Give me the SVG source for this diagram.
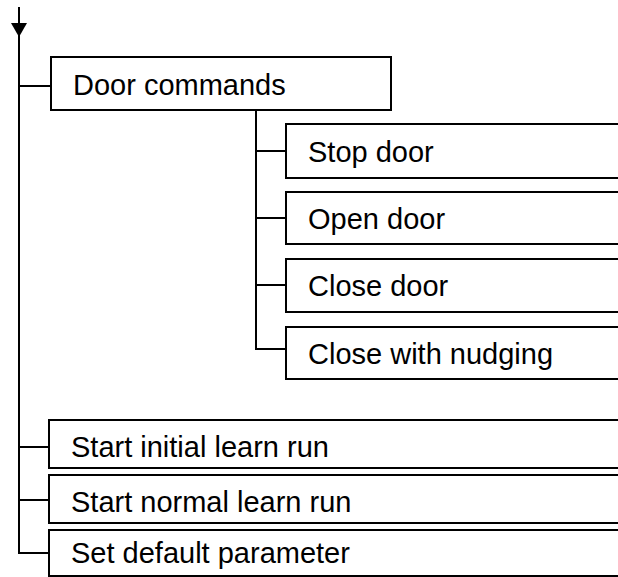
<svg xmlns="http://www.w3.org/2000/svg" width="618" height="577" viewBox="0 0 618 577">
<style>
.box{fill:#fff;stroke:#000;stroke-width:2}
.lbl{font-family:"Liberation Sans",Arial,sans-serif;font-size:29px;fill:#000}
.con{fill:none;stroke:#000;stroke-width:2}
</style>
<rect width="618" height="577" fill="#fff"/>
<g id="connectors">
<path class="con" d="M19,7 V553 H49"/>
<polygon points="11,23 27,23 19,37" fill="#000"/>
<path class="con" d="M19,86 H51 M19,447 H49 M19,500 H49"/>
<path class="con" d="M256,110 V349 H286 M256,151 H286 M256,218 H286 M256,285 H286"/>
</g>
<g id="door-commands"><rect class="box" x="51" y="57" width="340" height="53"/><text class="lbl" x="73" y="95">Door commands</text></g>
<g id="stop-door"><rect class="box" x="286" y="124" width="360" height="54"/><text class="lbl" x="308" y="162">Stop door</text></g>
<g id="open-door"><rect class="box" x="286" y="192" width="360" height="52"/><text class="lbl" x="308" y="229">Open door</text></g>
<g id="close-door"><rect class="box" x="286" y="259" width="360" height="53"/><text class="lbl" x="308" y="296">Close door</text></g>
<g id="close-nudging"><rect class="box" x="286" y="327" width="360" height="52"/><text class="lbl" x="308" y="364">Close with nudging</text></g>
<g id="start-initial"><rect class="box" x="49" y="420" width="600" height="48"/><text class="lbl" x="71" y="457">Start initial learn run</text></g>
<g id="start-normal"><rect class="box" x="49" y="475" width="600" height="48"/><text class="lbl" x="71" y="512">Start normal learn run</text></g>
<g id="set-default"><rect class="box" x="49" y="530" width="600" height="46"/><text class="lbl" x="71" y="563">Set default parameter</text></g>
</svg>
